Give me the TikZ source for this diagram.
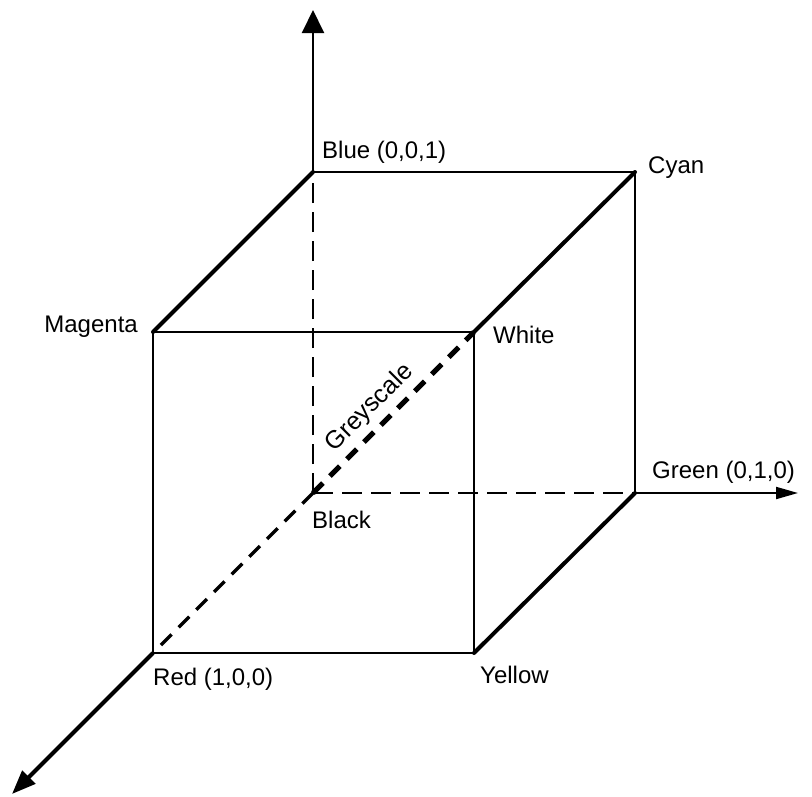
\documentclass[tikz,border=0pt]{standalone}
\usepackage{fontspec}
\setmainfont{Liberation Sans}
\usetikzlibrary{arrows.meta}

\begin{document}
\begin{tikzpicture}[x=1pt, y=-1pt,
  lbl/.style={font=\fontsize{24}{28}\selectfont, inner sep=0pt, anchor=base west},
  thinedge/.style={line width=1.7pt},
  midedge/.style={line width=2.8pt},
  thickedge/.style={line width=4pt, line cap=round},
  hidden/.style={line width=1.8pt, dash pattern=on 20pt off 9pt},
  hiddenthick/.style={line width=3.5pt, dash pattern=on 15pt off 10pt},
  axis/.style={line width=2pt}]
\path (0,0) rectangle (812,796);
% corners of the cube
\coordinate (black) at (313,493);
\coordinate (blue) at (313,172);
\coordinate (green) at (635,493);
\coordinate (cyan) at (635,172);
\coordinate (red) at (153,653);
\coordinate (magenta) at (153,332);
\coordinate (yellow) at (474,653);
\coordinate (white) at (474,332);
% axis ends
\coordinate (zend) at (313,10);
\coordinate (yend) at (798,493);
\coordinate (xend) at (12,794);
% hidden edges
\draw[hidden] (black) -- (blue);
\draw[hidden] (black) -- (green);
\draw[hiddenthick] (black) -- (red);
\draw[line width=5pt, dash pattern=on 14pt off 10pt] (black) -- (white)
  node[sloped, above, pos=0.44, inner sep=6pt, font=\fontsize{25}{29}\selectfont] (grey) {Greyscale};
% visible edges
\draw[thinedge] (magenta) -- (red);
\draw[thinedge] (blue) -- (cyan);
\draw[midedge] (magenta) -- (white);
\draw[midedge] (red) -- (yellow);
\draw[midedge] (white) -- (yellow);
\draw[midedge] (cyan) -- (green);
\draw[thickedge] (magenta) -- (blue);
\draw[thickedge] (white) -- (cyan);
\draw[thickedge] (yellow) -- (green);
% axes
\draw[axis, -{Triangle[length=23pt, width=22pt]}] (blue) -- (zend);
\draw[axis, -{Triangle[length=22pt, width=12pt]}] (green) -- (yend);
\draw[line width=4pt, -{Triangle[length=24pt, width=18pt]}] (red) -- (xend);
% labels
\node[lbl] (lblue) at (322,158) {Blue (0,0,1)};
\node[lbl] (lcyan) at (648,173) {Cyan};
\node[lbl, anchor=base east] (lmagenta) at (138,332) {Magenta};
\node[lbl] (lwhite) at (493,343) {White};
\node[lbl] (lgreen) at (652,478) {Green (0,1,0)};
\node[lbl] (lblack) at (312,528) {Black};
\node[lbl] (lred) at (153,685) {Red (1,0,0)};
\node[lbl] (lyellow) at (480,683) {Yellow};
\end{tikzpicture}
\end{document}
